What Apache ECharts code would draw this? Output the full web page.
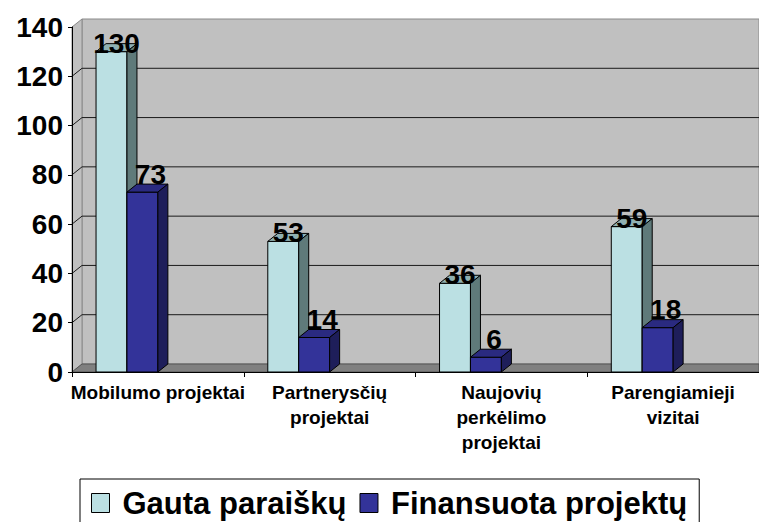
<!DOCTYPE html>
<html><head><meta charset="utf-8">
<script src="https://cdn.jsdelivr.net/npm/echarts@6/dist/echarts.min.js"></script>
<style>html,body{margin:0;padding:0;background:#fff}#c{width:759px;height:522px}</style>
</head><body><div id="c"></div>
<script>
const categories = ['Mobilumo projektai', 'Partnerysčių\nprojektai', 'Naujovių\nperkėlimo\nprojektai', 'Parengiamieji\nvizitai'];
const seriesNames = ['Gauta paraiškų', 'Finansuota projektų'];
const gautaParaisku = [130, 53, 36, 59];
const finansuotaProjektu = [73, 14, 6, 18];
const yTicks = [0, 20, 40, 60, 80, 100, 120, 140];

const FONT = '"Liberation Sans", Arial, sans-serif';
const DX = 10, DY = -8;

const chart = echarts.init(document.getElementById('c'), null, {renderer: 'svg'});

function barRenderer(si, colors, labelDx, labelDy) {
  return function (params, api) {
    const idx = api.value(0), val = api.value(1);
    const top = api.coord([idx, val]);
    const base = api.coord([idx, 0]);
    const band = api.size([1, 0])[0];
    const w = band * 0.18;
    const x0 = top[0] - (si === 0 ? 2 * w : w);
    const yt = top[1], yb = base[1];
    return {
      type: 'group', children: [
        {type: 'rect', shape: {x: x0, y: yt, width: w, height: yb - yt},
          style: {fill: colors.front, stroke: '#000', lineWidth: 1}},
        {type: 'polygon', shape: {points: [[x0, yt], [x0 + DX, yt + DY], [x0 + w + DX, yt + DY], [x0 + w, yt]]},
          style: {fill: colors.top, stroke: '#000', lineWidth: 1}},
        {type: 'polygon', shape: {points: [[x0 + w, yt], [x0 + w + DX, yt + DY], [x0 + w + DX, yb + DY], [x0 + w, yb]]},
          style: {fill: colors.side, stroke: '#000', lineWidth: 1}},
        {type: 'text', z2: 10, style: {text: String(val), x: x0 + w / 2 + labelDx, y: yt + labelDy,
          align: 'center', verticalAlign: 'middle', fontSize: 28, fontWeight: 'bold', fontFamily: FONT, fill: '#000'}}
      ]
    };
  };
}

function wallRenderer(params, api) {
  const cs = params.coordSys;
  const xl = cs.x, xr = cs.x + cs.width;
  const y0 = api.coord([0, 0])[1];
  const yMax = api.coord([0, yTicks[yTicks.length - 1]])[1];
  const children = [
    {type: 'rect', shape: {x: xl + DX, y: yMax + DY, width: xr - xl - DX, height: y0 - yMax},
      style: {fill: '#C0C0C0', stroke: '#8a8a8a', lineWidth: 1}},
    {type: 'polygon', shape: {points: [[xl, yMax], [xl + DX, yMax + DY], [xl + DX, y0 + DY], [xl, y0]]},
      style: {fill: '#C0C0C0', stroke: '#8a8a8a', lineWidth: 1}},
    {type: 'polygon', shape: {points: [[xl, y0], [xl + DX, y0 + DY], [xr, y0 + DY], [xr, y0]]},
      style: {fill: '#808080', stroke: '#555', lineWidth: 1}}
  ];
  yTicks.forEach(function (v, i) {
    if (v === 0 || i === yTicks.length - 1) return;
    const y = api.coord([0, v])[1];
    children.push({type: 'polyline', shape: {points: [[xl, y], [xl + DX, y + DY], [xr, y + DY]]},
      style: {fill: null, stroke: '#1a1a1a', lineWidth: 1}});
  });
  return {type: 'group', children: children};
}

const option = {
  animation: false,
  backgroundColor: '#fff',
  grid: {left: 72, right: 0, top: 27, bottom: 150, containLabel: false},
  xAxis: {
    type: 'category', data: categories,
    axisLine: {show: true, lineStyle: {color: '#000', width: 1}},
    axisTick: {show: true, length: 5, lineStyle: {color: '#000'}},
    axisLabel: {interval: 0, fontSize: 19, fontWeight: 'bold', lineHeight: 25, margin: 8, color: '#000', fontFamily: FONT},
    splitLine: {show: false}
  },
  yAxis: {
    type: 'value', min: 0, max: 140, interval: 20,
    axisLine: {show: true, lineStyle: {color: '#000', width: 1}},
    axisTick: {show: true, length: 4, lineStyle: {color: '#000'}},
    axisLabel: {fontSize: 28, fontWeight: 'bold', margin: 9, color: '#000', fontFamily: FONT},
    splitLine: {show: false}
  },
  legend: {
    data: seriesNames,
    left: 80, top: 479, orient: 'horizontal',
    padding: [7, 12, 20, 11],
    itemWidth: 18, itemHeight: 19, itemGap: 13,
    icon: 'rect',
    borderColor: '#000', borderWidth: 1,
    itemStyle: {borderColor: '#000', borderWidth: 1},
    textStyle: {fontSize: 31, fontWeight: 'bold', color: '#000', fontFamily: FONT, lineHeight: 34, padding: [0, 0, 0, 8]}
  },
  series: [
    {
      type: 'custom', name: '_walls', silent: true, z: -1,
      data: [[0, 0]], encode: {x: 0, y: 1},
      renderItem: wallRenderer
    },
    {
      type: 'custom', name: seriesNames[0], z: 2,
      itemStyle: {color: '#BBE0E3'},
      data: gautaParaisku.map(function (v, i) { return [i, v]; }), encode: {x: 0, y: 1},
      renderItem: barRenderer(0, {front: '#BBE0E3', top: '#8FB0B2', side: '#5F7A7A'}, 5, -8.5)
    },
    {
      type: 'custom', name: seriesNames[1], z: 3,
      itemStyle: {color: '#333399'},
      data: finansuotaProjektu.map(function (v, i) { return [i, v]; }), encode: {x: 0, y: 1},
      renderItem: barRenderer(1, {front: '#333399', top: '#2A2A80', side: '#1E1E5A'}, 8, -18)
    }
  ]
};
chart.setOption(option);
</script>
</body></html>
